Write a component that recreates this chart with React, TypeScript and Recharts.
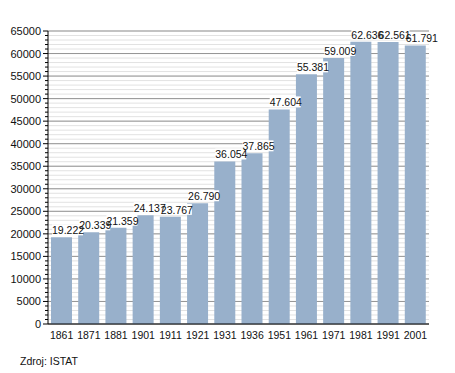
import { BarChart, Bar, XAxis, YAxis, CartesianGrid, LabelList } from 'recharts';

const years = ['1861', '1871', '1881', '1901', '1911', '1921', '1931', '1936', '1951', '1961', '1971', '1981', '1991', '2001'];
const population = [19222, 20339, 21359, 24137, 23767, 26790, 36054, 37865, 47604, 55381, 59009, 62636, 62561, 61791];
const yTicks = [0, 5000, 10000, 15000, 20000, 25000, 30000, 35000, 40000, 45000, 50000, 55000, 60000, 65000];

const data = years.map((year, i) => ({ year, value: population[i] }));

// every 1000 for the fine grid and small tick marks
const minorValues: number[] = [];
for (let v = 0; v <= 65000; v += 1000) minorValues.push(v);

const font = '"Liberation Sans", Arial, sans-serif';

function YTick(props: any) {
  const { x, y, payload } = props;
  const major = payload.value % 5000 === 0;
  return (
    <g>
      <line x1={x - (major ? 5 : 3)} x2={x} y1={y} y2={y} stroke="#000" strokeWidth={1} />
      {major && (
        <text x={x - 7} y={y} dy={4} textAnchor="end" fontSize={11} fontFamily={font} fill="#111">
          {payload.value}
        </text>
      )}
    </g>
  );
}

// white patch behind the label, drawn before all texts so texts can overlap
function LabelBg(props: any) {
  const { x, y } = props;
  return <rect x={x + 1} y={y - 13} width={31} height={11} fill="#fff" />;
}

function ValueLabel(props: any) {
  const { x, y, value } = props;
  return (
    <text x={x + 1} y={y - 3} fontSize={10.5} fontFamily={font} fill="#111">
      {(value / 1000).toFixed(3)}
    </text>
  );
}

export default function App() {
  return (
    <div style={{ position: 'absolute', left: 0, top: 0, width: 455, height: 373, background: '#fff' }}>
      <BarChart width={455} height={373} data={data} margin={{ top: 31, right: 26, bottom: 29, left: 0 }}>
        <CartesianGrid vertical={false} horizontalValues={minorValues} stroke="#e2e2e2" strokeWidth={1} />
        <CartesianGrid vertical={false} horizontalValues={yTicks} stroke="#959595" strokeWidth={1} />
        <XAxis
          dataKey="year"
          height={20}
          axisLine={{ stroke: '#000' }}
          tickLine={false}
          tick={{ fontSize: 10.5, fontFamily: font, fill: '#111' }}
          tickMargin={2}
          interval={0}
        />
        <YAxis
          width={48}
          domain={[0, 65000]}
          ticks={minorValues}
          interval={0}
          axisLine={{ stroke: '#000' }}
          tickLine={false}
          tickSize={0}
          tickMargin={0}
          tick={<YTick />}
        />
        <Bar dataKey="value" fill="#98b0cb" barSize={21} isAnimationActive={false}>
          <LabelList dataKey="value" content={<LabelBg />} />
          <LabelList dataKey="value" content={<ValueLabel />} />
        </Bar>
      </BarChart>
      <div style={{ position: 'absolute', left: 20, top: 355, fontSize: 10.5, fontFamily: font, color: '#111' }}>
        Zdroj: ISTAT
      </div>
    </div>
  );
}
